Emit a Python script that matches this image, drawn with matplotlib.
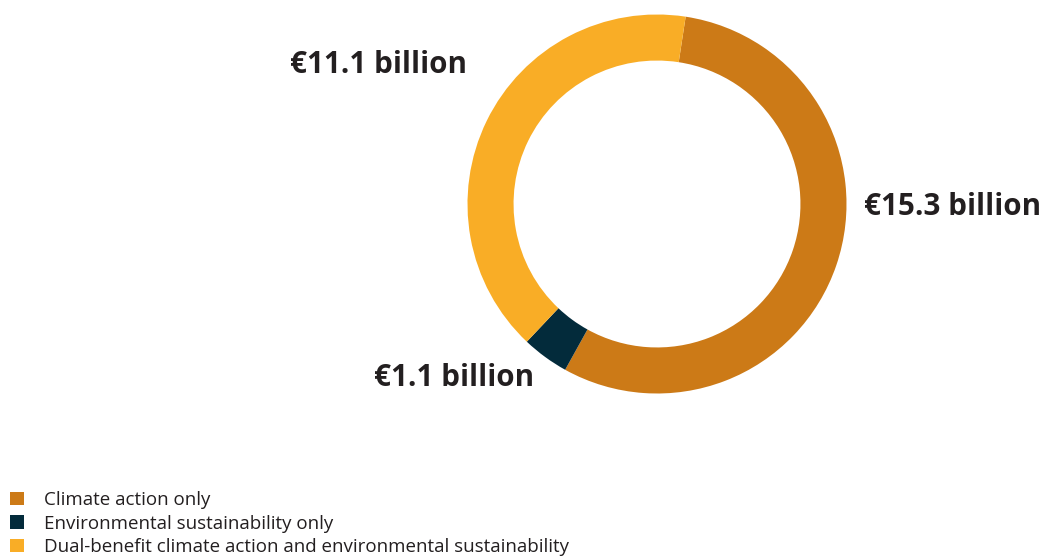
import matplotlib
matplotlib.use('Agg')
from matplotlib import pyplot as plt
from matplotlib.patches import Patch

categories = ['Climate action only',
              'Environmental sustainability only',
              'Dual-benefit climate action and environmental sustainability']
values = [15.3, 1.1, 11.1]
value_labels = ['€15.3 billion', '€1.1 billion', '€11.1 billion']
colors = ['#CC7A17', '#032B3B', '#F9AD26']

plt.rcParams['font.family'] = ['Open Sans', 'DejaVu Sans']

W, H = 1043, 559
fig = plt.figure(figsize=(W / 100, H / 100), dpi=100)
ax = fig.add_axes([0, 0, 1, 1])

cx, cy, r = 657, H - 204, 189.5
ax.pie(values, colors=colors, center=(cx, cy), radius=r, startangle=81.3,
       counterclock=False, wedgeprops=dict(width=r * 0.243, linewidth=0))

ax.set_xlim(0, W)
ax.set_ylim(0, H)
ax.set_aspect('equal')
ax.axis('off')

# value labels next to the ring
label_pos = [(864, H - 207, 'left'), (534, H - 378, 'right'), (467, H - 65, 'right')]
for (x, y, ha), txt in zip(label_pos, value_labels):
    ax.text(x, y, txt, ha=ha, va='center', fontsize=21.3, fontweight='bold', color='#231F20')

handles = [Patch(facecolor=c, edgecolor='none') for c in colors]
ax.legend(handles, categories, loc='lower left', bbox_to_anchor=(0.007, 0.0),
          bbox_transform=fig.transFigure, frameon=False, fontsize=13.5,
          handlelength=0.72, handleheight=0.72, handletextpad=1.1,
          labelspacing=0.3, borderaxespad=0.0, borderpad=0.15, labelcolor='#231F20')

fig.savefig('out.png', dpi=100)
